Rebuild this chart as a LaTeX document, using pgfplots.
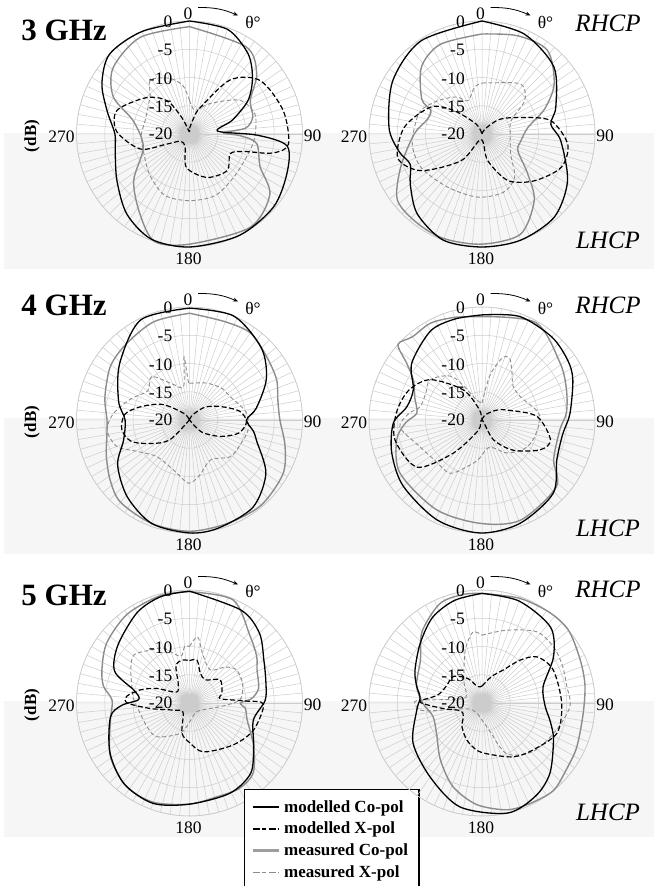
\documentclass[border=0pt]{standalone}
\usepackage{fontspec}
\setmainfont{Liberation Serif}
\usepackage{pgfplots}
\usepackage{pgfplotstable}
\pgfplotsset{compat=1.18}
\usepgfplotslibrary{polar}
\usetikzlibrary{arrows.meta}
\definecolor{gridc}{gray}{0.80}
\definecolor{bandc}{gray}{0.965}
\definecolor{measc}{gray}{0.55}
\definecolor{legc}{gray}{0.62}

% ---------- 3 GHz, left ----------
\pgfplotstableread[row sep=\\]{a r\\ 0 0\\ 20 -0.3\\ 36 -2.4\\ 48 -5\\ 60 -8\\ 72 -12\\ 84 -15\\ 91 -8\\ 97 -2.6\\ 112 -1.4\\ 131 -0.3\\ 154 0\\ 180 0\\ 200 -0.2\\ 218 -2\\ 237 -4.7\\ 257 -6.5\\ 270 -6.8\\ 286 -4.8\\ 300 -2.1\\ 315 0\\ 335 0\\ 360 0\\}\PaMC
\pgfplotstableread[row sep=\\]{a r\\ 0 -19\\ 15 -17\\ 22 -15\\ 37 -8\\ 53 -4.3\\ 76 -2.9\\ 96 -2.4\\ 103 -5\\ 108 -10\\ 116 -12\\ 134 -10.7\\ 158 -11.7\\ 185 -14\\ 198 -17.5\\ 230 -18\\ 246 -15.6\\ 253 -10.9\\ 272 -7.1\\ 288 -6.5\\ 310 -10\\ 326 -12.9\\ 335 -16.8\\ 350 -19.5\\ 360 -19\\}\PaMX
\pgfplotstableread[row sep=\\]{a r\\ 0 -1\\ 33 -1.6\\ 48 -4\\ 61 -7.7\\ 75 -8.4\\ 84 -10\\ 88 -14\\ 92 -11\\ 98 -8\\ 115 -6.2\\ 127 -2.2\\ 147 -0.3\\ 180 -0.5\\ 198 0\\ 212 -3.4\\ 230 -7.1\\ 254 -11.5\\ 283 -9.8\\ 296 -5\\ 311 -2.1\\ 333 -0.8\\ 360 -1\\}\PaGC
\pgfplotstableread[row sep=\\]{a r\\ 0 -14\\ 13 -15.7\\ 34 -13.5\\ 56 -9.3\\ 73 -7.9\\ 91 -8.4\\ 105 -8.9\\ 132 -9.1\\ 157 -8.2\\ 180 -8.2\\ 202 -8.3\\ 224 -9.9\\ 250 -11.3\\ 270 -11.5\\ 287 -11.8\\ 314 -10.3\\ 324 -8.2\\ 340 -9.5\\ 352 -11.3\\ 360 -14\\}\PaGX
% ---------- 3 GHz, right ----------
\pgfplotstableread[row sep=\\]{a r\\ 0 0\\ 23 -0.8\\ 47 -2.6\\ 70 -6.1\\ 82 -7.7\\ 95 -6\\ 119 -2.7\\ 139 -0.5\\ 160 0\\ 180 0\\ 200 0\\ 219 -1.8\\ 235 -4.5\\ 247 -6.2\\ 258 -5\\ 274 -3.5\\ 301 -1.6\\ 327 -0.3\\ 360 0\\}\PbMC
\pgfplotstableread[row sep=\\]{a r\\ 0 -20\\ 30 -19\\ 50 -16\\ 67 -12.5\\ 79 -7.6\\ 97 -4.7\\ 113 -4.8\\ 132 -7.6\\ 151 -10.6\\ 168 -15.2\\ 190 -19\\ 218 -14\\ 239 -7.4\\ 254 -4.5\\ 275 -6.2\\ 298 -9.8\\ 310 -13.6\\ 330 -18\\ 360 -20\\}\PbMX
\pgfplotstableread[row sep=\\]{a r\\ 0 -2.3\\ 20 -1.5\\ 38 -1.2\\ 55 -4.4\\ 68 -8\\ 82 -11.8\\ 100 -13\\ 115 -13\\ 131 -9.3\\ 142 -5\\ 159 -1\\ 180 -0.5\\ 200 -0.3\\ 216 -0.5\\ 232 -1\\ 248 -4.5\\ 270 -8\\ 285 -10\\ 295 -10\\ 300 -7.7\\ 318 -4\\ 335 -2.5\\ 360 -2.3\\}\PbGC
\pgfplotstableread[row sep=\\]{a r\\ 0 -11\\ 10 -10.8\\ 38 -8.8\\ 52 -10.4\\ 65 -14.3\\ 90 -15\\ 125 -13.8\\ 143 -10.4\\ 160 -9\\ 184 -8.8\\ 213 -8.8\\ 241 -7.7\\ 260 -7.5\\ 276 -8\\ 291 -8.4\\ 307 -10.2\\ 325 -12\\ 337 -13.6\\ 351 -11.6\\ 360 -11\\}\PbGX
% ---------- 4 GHz, left ----------
\pgfplotstableread[row sep=\\]{a r\\ 0 -0.2\\ 23 0\\ 45 -2\\ 62 -4.6\\ 80 -8\\ 90 -9.9\\ 100 -8.5\\ 107 -7.6\\ 125 -3.5\\ 144 -0.9\\ 165 -0.2\\ 180 0\\ 200 -0.5\\ 219 -2.5\\ 238 -5\\ 253 -7.8\\ 270 -8.6\\ 285 -7\\ 309 -4.1\\ 334 -0.3\\ 360 -0.2\\}\PcMC
\pgfplotstableread[row sep=\\]{a r\\ 0 -20\\ 30 -19\\ 50 -16.5\\ 66 -14.1\\ 80 -11\\ 92 -9.9\\ 105 -11\\ 118 -13.8\\ 135 -17\\ 160 -20\\ 200 -20\\ 225 -15\\ 239 -11.9\\ 250 -9\\ 262 -7.9\\ 275 -8.5\\ 285 -11\\ 300 -14.5\\ 320 -18.5\\ 340 -20\\ 360 -20\\}\PcMX
\pgfplotstableread[row sep=\\]{a r\\ 0 -1.1\\ 20 -1.5\\ 35 -1.2\\ 50 -2.3\\ 65 -3\\ 78 -4\\ 90 -4\\ 105 -2.5\\ 120 -0.9\\ 140 -0.3\\ 160 -0.5\\ 180 -0.3\\ 200 -0.5\\ 220 -1\\ 233 -2.4\\ 247 -4\\ 259 -5.1\\ 270 -5.4\\ 285 -4.5\\ 304 -3.1\\ 320 -2.5\\ 340 -1.5\\ 360 -1.1\\}\PcGC
\pgfplotstableread[row sep=\\]{a r\\ 0 -13.5\\ 25 -12.8\\ 45 -12\\ 60 -11.7\\ 83 -9.8\\ 100 -9.5\\ 115 -10\\ 132 -10.3\\ 152 -12\\ 170 -10\\ 181 -8.8\\ 195 -10.5\\ 222 -11.3\\ 240 -9\\ 250 -6.3\\ 263 -5.3\\ 275 -6.5\\ 290 -9\\ 305 -11\\ 319 -9.8\\ 335 -13\\ 350 -14\\ 355 -8.8\\ 358 -13\\ 360 -13.5\\}\PcGX
% ---------- 4 GHz, right ----------
\pgfplotstableread[row sep=\\]{a r\\ 0 -1.4\\ 20 -0.5\\ 40 -0.8\\ 55 -1.5\\ 66 -2.4\\ 86 -4.4\\ 100 -5.5\\ 118 -5\\ 136 -1.9\\ 160 -0.5\\ 181 0\\ 204 -0.6\\ 230 -1.8\\ 250 -3\\ 268 -4.3\\ 280 -6.5\\ 294 -6.7\\ 309 -4\\ 330 -1.8\\ 345 -1.5\\ 360 -1.4\\}\PdMC
\pgfplotstableread[row sep=\\]{a r\\ 0 -20\\ 30 -19\\ 55 -17\\ 68 -15.3\\ 86 -10.3\\ 106 -7.4\\ 117 -8.4\\ 134 -12.3\\ 150 -16\\ 175 -20\\ 200 -18\\ 221 -12.2\\ 234 -5.8\\ 257 -4.2\\ 275 -4.8\\ 292 -6\\ 308 -8.4\\ 328 -13.7\\ 345 -18\\ 360 -20\\}\PdMX
\pgfplotstableread[row sep=\\]{a r\\ 0 -1.7\\ 29 -0.3\\ 54 -2.9\\ 70 -4.1\\ 85 -5\\ 97 -6.1\\ 119 -5.5\\ 132 -2.3\\ 159 -1\\ 181 -1.7\\ 207 -2.2\\ 237 -2.7\\ 257 -4.5\\ 268 -6.5\\ 276 -8.4\\ 288 -7.5\\ 300 -6\\ 307 -3.3\\ 312 0\\ 320 -0.8\\ 332 -0.6\\ 345 -1.2\\ 360 -1.7\\}\PdGC
\pgfplotstableread[row sep=\\]{a r\\ 0 -17\\ 10 -12\\ 18 -8.5\\ 24 -8\\ 32 -10\\ 43 -11.9\\ 60 -12\\ 80 -10.2\\ 90 -9.7\\ 111 -10.3\\ 125 -11\\ 143 -12.7\\ 165 -15\\ 185 -13\\ 198 -11.3\\ 211 -9\\ 230 -9\\ 247 -8\\ 265 -5.4\\ 275 -7\\ 282 -8.8\\ 295 -9\\ 308 -8.4\\ 326 -10.8\\ 345 -16.3\\ 360 -17\\}\PdGX
% ---------- 5 GHz, left ----------
\pgfplotstableread[row sep=\\]{a r\\ 0 -0.2\\ 29 -1.2\\ 45 -2.5\\ 60 -4.8\\ 75 -6\\ 88 -6.6\\ 105 -8.3\\ 124 -6.3\\ 139 -3.5\\ 156 -2.5\\ 180 -2.1\\ 200 -1.1\\ 219 -1.6\\ 238 -3.4\\ 260 -5.8\\ 268 -8\\ 274 -11\\ 283 -9.9\\ 293 -5.6\\ 309 -3.7\\ 330 -1.5\\ 345 -0.5\\ 360 -0.2\\}\PeMC
\pgfplotstableread[row sep=\\]{a r\\ 0 -12.5\\ 10 -12.3\\ 20 -14.4\\ 35 -15\\ 53 -13.2\\ 73 -14\\ 82 -14.5\\ 88 -10\\ 91 -6.9\\ 113 -7.7\\ 134 -9.3\\ 164 -11\\ 180 -13\\ 194 -14.5\\ 215 -18\\ 245 -17\\ 262 -13\\ 270 -9\\ 276 -8.8\\ 285 -11\\ 294 -13.7\\ 310 -17\\ 330 -16\\ 340 -13\\ 350 -12.3\\ 360 -12.5\\}\PeMX
\pgfplotstableread[row sep=\\]{a r\\ 0 -0.3\\ 23 -0.2\\ 42 -4\\ 55 -5.5\\ 64 -6.7\\ 78 -7.5\\ 86 -9\\ 90 -11\\ 96 -10\\ 106 -9.4\\ 124 -6.3\\ 138 -3.2\\ 150 -2.5\\ 164 -2.7\\ 180 -2.1\\ 200 -1.3\\ 217 -1.5\\ 236 -3.1\\ 258 -5.7\\ 272 -6.3\\ 281 -4.5\\ 291 -3.4\\ 306 -1.9\\ 325 -0.8\\ 345 -0.3\\ 360 -0.3\\}\PeGC
\pgfplotstableread[row sep=\\]{a r\\ 0 -10\\ 7 -8.2\\ 15 -11\\ 32 -13.1\\ 45 -11\\ 55 -9.8\\ 70 -10\\ 86 -11\\ 95 -14\\ 120 -17.5\\ 150 -18\\ 175 -17\\ 197 -14.4\\ 224 -11.7\\ 241 -11.4\\ 260 -11\\ 275 -10\\ 286 -9.4\\ 300 -8\\ 311 -7\\ 325 -8.5\\ 335 -9.3\\ 349 -11.6\\ 355 -10\\ 360 -10\\}\PeGX
% ---------- 5 GHz, right ----------
\pgfplotstableread[row sep=\\]{a r\\ 0 -0.6\\ 20 -0.8\\ 42 -1.9\\ 57 -4.9\\ 75 -8.8\\ 93 -8.8\\ 105 -7.5\\ 117 -5.8\\ 136 -2.7\\ 150 -1\\ 167 0\\ 192 -1.2\\ 215 -4\\ 240 -5.9\\ 264 -8.4\\ 275 -9\\ 285 -8\\ 296 -6.8\\ 314 -4.8\\ 330 -2.5\\ 345 -1.2\\ 360 -0.6\\}\PfMC
\pgfplotstableread[row sep=\\]{a r\\ 0 -17\\ 20 -15\\ 33 -13\\ 41.5 -9.9\\ 50 -7.3\\ 65 -6.1\\ 90 -5.9\\ 112 -5.7\\ 135 -7.9\\ 150 -9\\ 168 -10.6\\ 185 -11.5\\ 202 -12.9\\ 220 -14.5\\ 234 -15.9\\ 250 -16\\ 262 -13\\ 271 -9\\ 280 -12\\ 295 -13\\ 313 -13.1\\ 330 -15\\ 345 -17\\ 360 -17\\}\PfMX
\pgfplotstableread[row sep=\\]{a r\\ 0 -0.6\\ 20 -0.3\\ 37 0\\ 50 0\\ 66 -1\\ 80 -1.5\\ 96 -2\\ 115 -1.5\\ 128 -1\\ 141 0\\ 155 -0.3\\ 167 -0.6\\ 183 -2\\ 199 -4.3\\ 216 -7.5\\ 236 -10.3\\ 255 -11\\ 270 -9.5\\ 285 -8\\ 305 -6.7\\ 320 -3.5\\ 337 -0.9\\ 350 -0.5\\ 360 -0.6\\}\PfGC
\pgfplotstableread[row sep=\\]{a r\\ 0 -8\\ 18.7 -6.4\\ 37.5 -4.1\\ 52 -3.9\\ 65 -4.3\\ 79 -4.7\\ 92 -4.4\\ 110 -6\\ 133 -7.5\\ 154 -10\\ 165 -15\\ 180 -17\\ 210 -18\\ 250 -17\\ 262 -10\\ 266 -8.5\\ 272 -8.4\\ 276 -14\\ 290 -17\\ 320 -15\\ 340 -11\\ 346 -9.1\\ 353 -7.3\\ 360 -8\\}\PfGX

\pgfplotsset{
 panel/.style={width=226bp,height=226bp,scale only axis,anchor=center,
   xmin=0,xmax=360,ymin=0,ymax=20,
   xtick={0,5,...,355},ytick={5,10,15,20},
   xticklabel={\empty},yticklabel={\empty},major tick length=0pt,
   grid=major, major grid style={gridc,line width=0.5bp},
   axis line style={gridc,line width=0.6bp},
   x filter/.expression={90-x}, y filter/.expression={y+20},
   clip=false},
 mc/.style={black,line width=1.3bp,smooth},
 mx/.style={black,line width=1.2bp,dash pattern=on 5bp off 2.5bp,smooth},
 gc/.style={measc,line width=1.4bp,smooth},
 gx/.style={measc,line width=0.9bp,dash pattern=on 4bp off 2.5bp,smooth},
}

\newcommand{\lblfont}{\fontsize{17.5bp}{20bp}\selectfont}
\newcommand{\panel}[6]{%
\begin{polaraxis}[panel, at={(#1bp,#2bp)}]
\addplot[gx] table[x=a,y=r]{#6};
\addplot[gc] table[x=a,y=r]{#5};
\addplot[mx] table[x=a,y=r]{#4};
\addplot[mc] table[x=a,y=r]{#3};
\end{polaraxis}}
\newcommand{\labs}[2]{%
\begin{scope}[shift={(#1bp,#2bp)}, x=1bp, y=1bp, every node/.style={inner sep=0pt, font=\lblfont}]
 \node at (-1.5,120) {0};
 \node at (123,-1.5) {90};
 \node at (-1,-125) {180};
 \node at (-128,-3) {270};
 \node[anchor=east] at (-17,112) {0};
 \node[anchor=east] at (-17,84.5) {-5};
 \node[anchor=east] at (-17,55.5) {-10};
 \node[anchor=east] at (-17,27) {-15};
 \node[anchor=east] at (-17,0) {-20};
 \draw[-{Stealth[length=5bp,width=4bp]}, line width=0.8bp] (8.5,126.5) to[bend left=12] (48.5,118.5);
 \node at (63.5,111.5) {θ°};
\end{scope}}

\begin{document}
\begin{tikzpicture}
\useasboundingbox (0,0) rectangle (654bp,886bp);
\fill[bandc] (4bp,617bp) rectangle (654bp,753bp);
\fill[bandc] (4bp,332bp) rectangle (654bp,468bp);
\fill[bandc] (4bp,49bp) rectangle (654bp,185bp);

\panel{189.5}{752}{\PaMC}{\PaMX}{\PaGC}{\PaGX}
\panel{482}{752}{\PbMC}{\PbMX}{\PbGC}{\PbGX}
\panel{189.5}{466}{\PcMC}{\PcMX}{\PcGC}{\PcGX}
\panel{482}{466}{\PdMC}{\PdMX}{\PdGC}{\PdGX}
\begin{polaraxis}[panel, at={(189.5bp,183bp)},
  legend cell align=left,
  legend style={at={(axis description cs:0.741,0.12)}, anchor=north west, draw=black, line width=1.1bp,
    font=\bfseries\fontsize{17bp}{19bp}\selectfont, inner xsep=7bp, inner ysep=9bp, row sep=4.5bp,
    nodes={inner xsep=4bp}},
  legend image code/.code={\draw[#1] (0bp,0bp) -- (26bp,0bp);}]
\addlegendimage{black,line width=1.6bp}
\addlegendentry{modelled Co-pol}
\addlegendimage{black,line width=1.4bp,dash pattern=on 7bp off 2.5bp on 4bp off 2.5bp}
\addlegendentry{modelled X-pol}
\addlegendimage{legc,line width=2.6bp}
\addlegendentry{measured Co-pol}
\addlegendimage{measc,line width=1bp,dash pattern=on 7bp off 2.5bp on 4bp off 2.5bp}
\addlegendentry{measured X-pol}
\addplot[gx,forget plot] table[x=a,y=r]{\PeGX};
\addplot[gc,forget plot] table[x=a,y=r]{\PeGC};
\addplot[mx,forget plot] table[x=a,y=r]{\PeMX};
\addplot[mc,forget plot] table[x=a,y=r]{\PeMC};
\end{polaraxis}
\panel{482}{183}{\PfMC}{\PfMX}{\PfGC}{\PfGX}

\labs{189.5}{752}\labs{482}{752}
\labs{189.5}{466}\labs{482}{466}
\labs{189.5}{183}\labs{482}{183}

\begin{scope}[every node/.style={inner sep=0pt}]
\node[font=\bfseries\fontsize{31bp}{34bp}\selectfont] at (64bp,856bp) {3 GHz};
\node[font=\bfseries\fontsize{31bp}{34bp}\selectfont] at (64bp,581bp) {4 GHz};
\node[font=\bfseries\fontsize{31bp}{34bp}\selectfont] at (64bp,291bp) {5 GHz};
\foreach \yy in {750,464,181}{
  \node[rotate=90,font=\bfseries\fontsize{17bp}{20bp}\selectfont] at (32bp,\yy bp) {(dB)};}
\foreach \yy/\ya/\yb in {752/863/646, 466/581/358, 183/297/74}{
  \node[font=\itshape\fontsize{25bp}{28bp}\selectfont] at (608bp,\ya bp) {RHCP};
  \node[font=\itshape\fontsize{25bp}{28bp}\selectfont] at (608bp,\yb bp) {LHCP};}
\end{scope}
\end{tikzpicture}
\end{document}
